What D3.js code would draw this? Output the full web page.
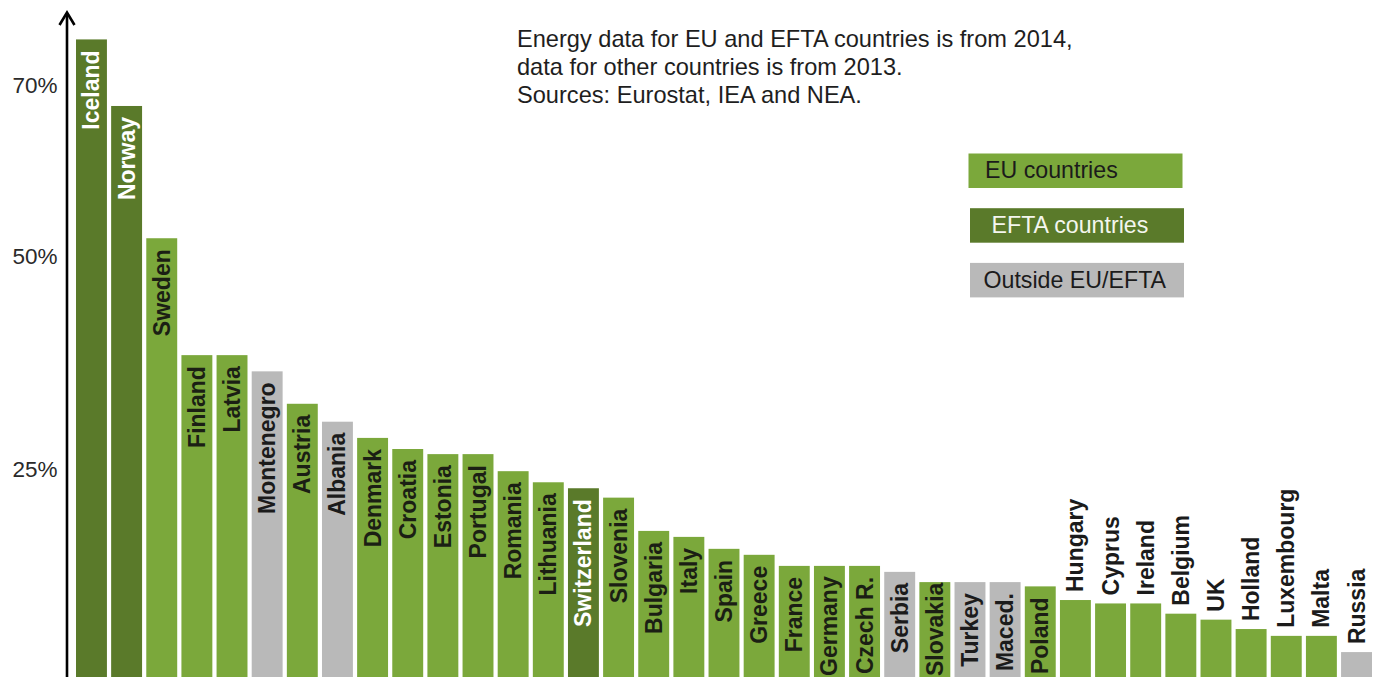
<!DOCTYPE html>
<html>
<head>
<meta charset="utf-8">
<script src="https://cdn.jsdelivr.net/npm/d3@7"></script>
<style>
  html, body { margin: 0; padding: 0; background: #fff; }
  svg { display: block; font-family: "Liberation Sans", Arial, Helvetica, sans-serif; }
</style>
</head>
<body>
<svg id="chart" width="1376" height="677"></svg>
<script>
// Share of renewable energy in gross final energy consumption (%)
const countries = ["Iceland","Norway","Sweden","Finland","Latvia","Montenegro","Austria","Albania",
  "Denmark","Croatia","Estonia","Portugal","Romania","Lithuania","Switzerland","Slovenia",
  "Bulgaria","Italy","Spain","Greece","France","Germany","Czech R.","Serbia","Slovakia",
  "Turkey","Maced.","Poland","Hungary","Cyprus","Ireland","Belgium","UK","Holland",
  "Luxembourg","Malta","Russia"];
const shares = [75.4, 67.6, 52.1, 38.4, 38.4, 36.5, 32.7, 30.6,
  28.7, 27.4, 26.8, 26.8, 24.8, 23.5, 22.8, 21.7,
  17.8, 17.1, 15.7, 15.0, 13.7, 13.7, 13.7, 13.0, 11.8,
  11.8, 11.8, 11.3, 9.7, 9.3, 9.3, 8.1, 7.4, 6.3,
  5.5, 5.5, 3.6];
const groups = ["EFTA","EFTA","EU","EU","EU","Other","EU","Other",
  "EU","EU","EU","EU","EU","EU","EFTA","EU",
  "EU","EU","EU","EU","EU","EU","EU","Other","EU",
  "Other","Other","EU","EU","EU","EU","EU","EU","EU",
  "EU","EU","Other"];

const groupKeys = ["EU","EFTA","Other"];
const legendLabels = ["EU countries","EFTA countries","Outside EU/EFTA"];
const yTicks = [25, 50, 70];
const noteLines = [
  "Energy data for EU and EFTA countries is from 2014,",
  "data for other countries is from 2013.",
  "Sources: Eurostat, IEA and NEA."
];

const fill = d3.scaleOrdinal().domain(groupKeys).range(["#7ba83b", "#5a7a2a", "#b9b9b9"]);
const labelInk = d3.scaleOrdinal().domain(groupKeys).range(["#1b1f14", "#ffffff", "#1b1b1b"]);
const insideMin = 10; // shorter bars carry their name above the bar
const W = 1376, H = 677;

const rows = countries.map((c, i) => ({ country: c, value: shares[i], group: groups[i] }));

const svg = d3.select("#chart");

const x = d3.scaleBand().domain(countries).range([76, 1372]).paddingInner(0.12).paddingOuter(0);
const y = d3.scaleLinear().domain([0, 70]).range([682.8, 85.5]);

// bars
svg.append("g").selectAll("rect").data(rows).join("rect")
  .attr("x", d => x(d.country))
  .attr("y", d => y(d.value))
  .attr("width", x.bandwidth())
  .attr("height", d => y(0) - y(d.value))
  .attr("fill", d => fill(d.group));

// country names, rotated; names inside a bar are nudged up so they stay on the page
svg.append("g").selectAll("text").data(rows).join("text")
  .attr("text-anchor", d => d.value >= insideMin ? "end" : "start")
  .attr("font-size", 23)
  .attr("font-weight", "bold")
  .attr("fill", d => d.value >= insideMin ? labelInk(d.group) : "#1b1b1b")
  .text(d => d.country)
  .attr("transform", function (d) {
    const cx = x(d.country) + x.bandwidth() / 2 + 8;
    let ty;
    if (d.value >= insideMin) {
      const len = this.getComputedTextLength();
      ty = Math.min(y(d.value) + 11, H - 1 - len);
    } else {
      ty = y(d.value) - 8;
    }
    return `translate(${cx},${ty}) rotate(-90)`;
  });

// y axis: percentage labels only
const yAxis = d3.axisLeft(y).tickValues(yTicks).tickSize(0).tickPadding(9).tickFormat(d => d + "%");
const axisG = svg.append("g").attr("transform", "translate(66.5,0)").call(yAxis);
axisG.select(".domain").remove();
axisG.selectAll("text")
  .attr("font-family", "'Liberation Sans', Arial, sans-serif")
  .attr("font-size", 22.5)
  .attr("fill", "#2a2a2a");

// axis line with open arrow head
svg.append("line")
  .attr("x1", 67).attr("x2", 67).attr("y1", 13).attr("y2", H)
  .attr("stroke", "#000").attr("stroke-width", 2.6);
svg.append("path")
  .attr("d", "M59.5,25 L67,12.5 L74.5,25")
  .attr("fill", "none").attr("stroke", "#000").attr("stroke-width", 2.6);

// source note
svg.append("g").selectAll("text").data(noteLines).join("text")
  .attr("x", 517)
  .attr("y", (d, i) => 46.7 + i * 28.3)
  .attr("font-size", 23.6)
  .attr("fill", "#1e1e1e")
  .text(d => d);

// legend
const legend = svg.append("g").selectAll("g").data(groupKeys).join("g")
  .attr("transform", (d, i) => `translate(${i === 0 ? 968.5 : 970},${153.5 + i * 54.7})`);
legend.append("rect")
  .attr("width", 214).attr("height", 34.5)
  .attr("fill", d => fill(d));
legend.append("text")
  .attr("x", (d, i) => [16.5, 21.5, 13.5][i])
  .attr("y", 24.8)
  .attr("font-size", 23.2)
  .attr("fill", d => d === "EFTA" ? "#f4f6ee" : "#1b1b1b")
  .text((d, i) => legendLabels[i]);
</script>
</body>
</html>
